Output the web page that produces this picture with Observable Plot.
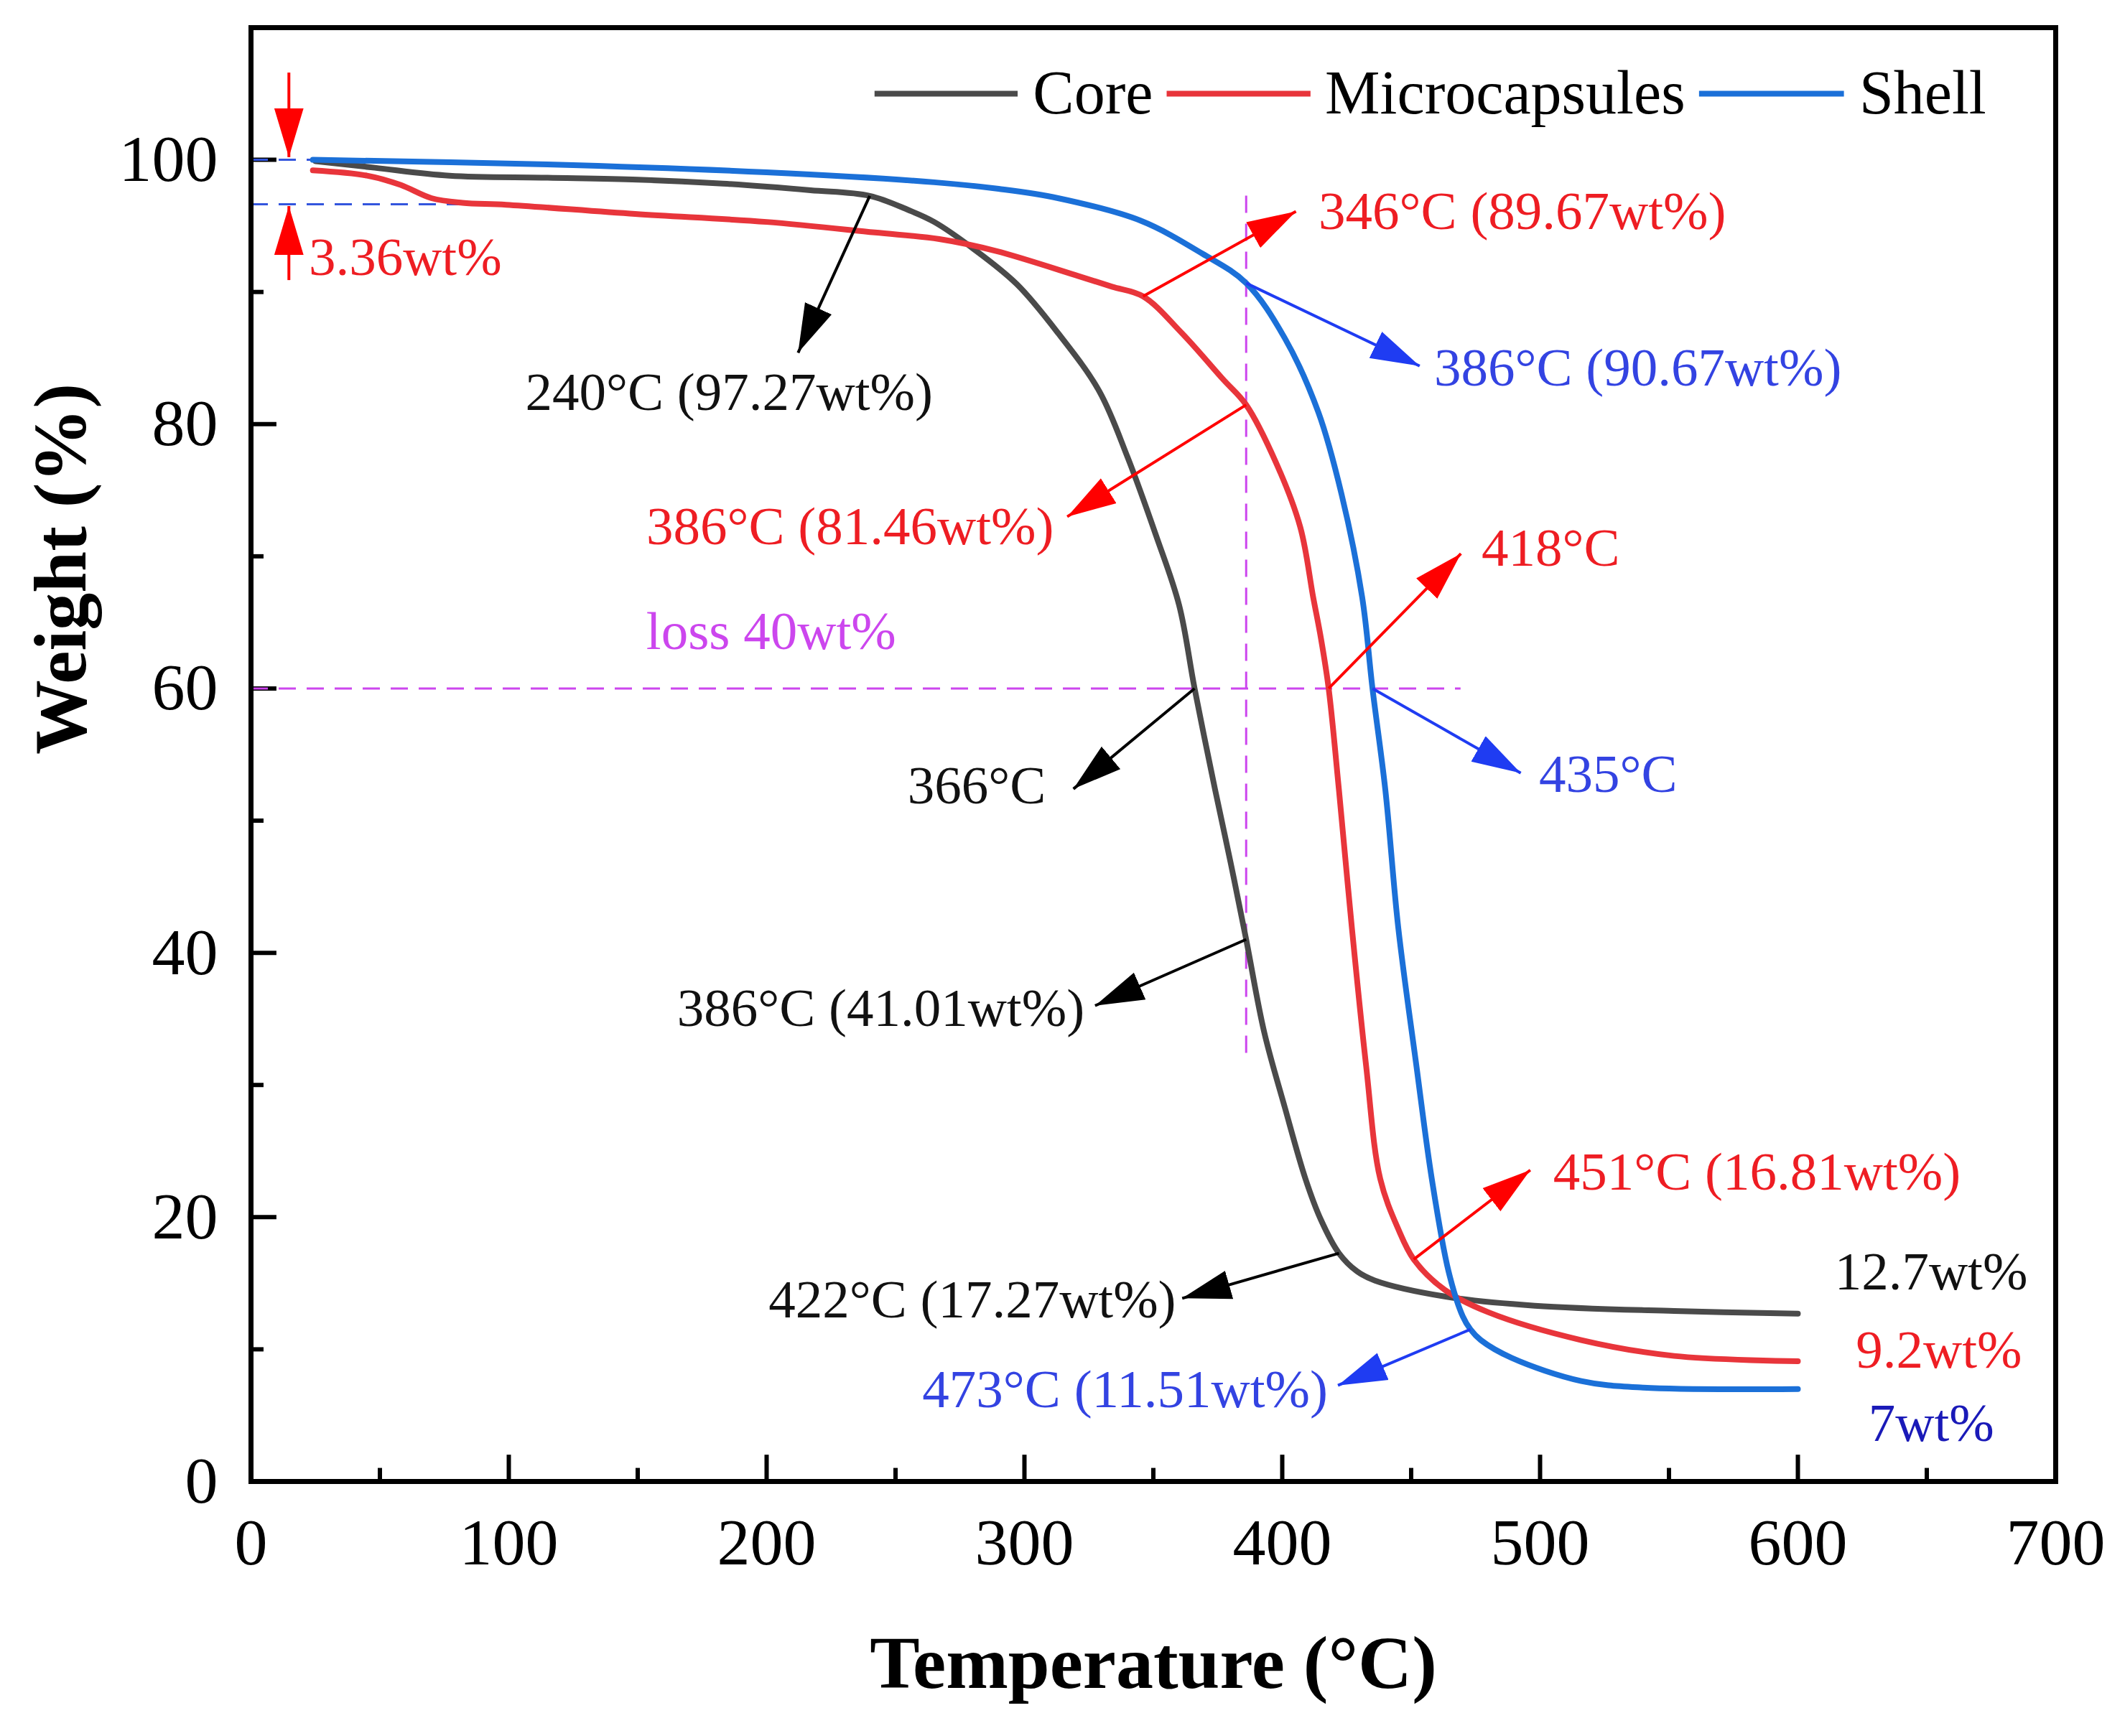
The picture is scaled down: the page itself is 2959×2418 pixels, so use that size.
<!DOCTYPE html>
<html>
<head>
<meta charset="utf-8">
<script src="https://cdn.jsdelivr.net/npm/d3@7"></script>
<script src="https://cdn.jsdelivr.net/npm/@observablehq/plot@0.6"></script>
<style>
  html, body { margin: 0; padding: 0; background: #fff; }
  #chart svg { display: block; }
</style>
</head>
<body>
<div id="chart"></div>
<script>
// ---------- data ----------
const seriesNames = ["Core", "Microcapsules", "Shell"];

const coreT = [25, 48, 77, 115, 150, 183, 217, 240, 255, 265, 280, 297, 313, 329, 340, 351, 360, 366, 374, 380, 386, 393, 401, 409, 415, 422, 429, 436, 463, 498, 552, 600];
const coreW = [99.9, 99.4, 98.8, 98.65, 98.5, 98.2, 97.7, 97.27, 96.2, 95.3, 93.3, 90.6, 86.9, 82.5, 77.5, 71.6, 66.3, 60.0, 52.3, 46.8, 41.01, 34.0, 28.3, 22.9, 19.8, 17.27, 15.9, 15.2, 14.0, 13.3, 12.9, 12.7];

const microT = [24, 45, 58, 70, 82, 99, 149, 200, 242, 267, 289, 321, 334, 346, 361, 377, 386, 398, 407, 412, 415, 418, 422, 427, 432.5, 438, 445, 451, 463, 480, 516, 552, 600];
const microW = [99.2, 98.8, 98.1, 97.1, 96.75, 96.6, 95.9, 95.3, 94.5, 94.0, 93.1, 91.2, 90.4, 89.67, 86.9, 83.4, 81.46, 76.9, 72.2, 66.9, 63.8, 60.0, 52.3, 41.9, 31.5, 22.9, 19.1, 16.81, 14.5, 12.8, 10.7, 9.5, 9.1];

const shellT = [24, 115, 200, 265, 290, 313, 345, 369, 386, 401, 414, 423, 431, 435, 440, 445, 452, 458, 464.5, 470, 473, 477, 489, 516, 540, 600];
const shellW = [100, 99.65, 99.05, 98.3, 97.8, 97.1, 95.4, 92.9, 90.67, 86.5, 80.9, 74.7, 66.9, 60.0, 52.3, 41.9, 31.5, 22.9, 15.9, 12.5, 11.51, 10.7, 9.35, 7.6, 7.1, 7.0];

// axis ticks
const xMajor = [0, 100, 200, 300, 400, 500, 600, 700];
const xMinor = [50, 150, 250, 350, 450, 550, 650];
const yMajor = [0, 20, 40, 60, 80, 100];
const yMinor = [10, 30, 50, 70, 90];

// annotations (temperature / weight values)
const annLabels = ["240°C (97.27wt%)", "346°C (89.67wt%)", "386°C (90.67wt%)", "386°C (81.46wt%)", "418°C", "366°C", "435°C", "386°C (41.01wt%)", "451°C (16.81wt%)", "422°C (17.27wt%)", "473°C (11.51wt%)"];
const annSeries = ["Core", "Microcapsules", "Shell", "Microcapsules", "Microcapsules", "Core", "Shell", "Core", "Microcapsules", "Core", "Shell"];
const annAnchor = ["start", "start", "start", "end", "start", "end", "start", "end", "start", "end", "end"];
const annTextT = [106.4, 414.1, 458.9, 311.4, 477.3, 308.3, 499.6, 323.3, 505.1, 358.8, 417.7];
const annTextW = [82.4, 96.05, 84.2, 72.2, 70.6, 52.6, 53.5, 35.75, 23.4, 13.7, 6.9];
const annFromT = [240, 346, 386, 386, 418, 366, 435, 386, 451, 422, 473];
const annFromW = [97.27, 89.67, 90.67, 81.46, 60, 60, 60, 41.01, 16.81, 17.27, 11.51];
const annToT = [212.2, 405.3, 453.3, 316.6, 469.3, 319, 492.5, 327.4, 496.2, 361.2, 421.6];
const annToW = [85.4, 96.1, 84.4, 73.0, 70.2, 52.4, 53.6, 36.0, 23.56, 13.86, 7.27];

// residue labels
const endLabels = ["12.7wt%", "9.2wt%", "7wt%"];
const endT = [689.1, 686.9, 676.1];
const endW = [15.84, 9.93, 4.35];

// initial loss (3.36 wt%) marker
const initLossLabel = "3.36wt%";
const initLevels = [100, 96.64];
const initLevelEnds = [24, 100];
const initArrowT = 14.7;
const initArrowsFrom = [106.6, 90.9];
const initArrowsTo = [100.2, 96.5];
const initLabelT = 22.4, initLabelW = 92.6;

// loss 40 wt% guides
const lossLabel = "loss 40wt%";
const lossLevel = 60, lossLevelEnd = 469.3;
const lossLabelT = 153.3, lossLabelW = 64.3;
const markT = 386, markTop = 97.5, markBottom = 32.4;

// legend layout (in data units)
const legendW = 105.0;
const legendLineFrom = [242, 355.3, 561.8];
const legendLineTo = [297.5, 411.1, 618];
const legendTextT = [303.3, 416.6, 623.8];

// ---------- styles ----------
const lineColor = {Core: "#4a4a4a", Microcapsules: "#e8353b", Shell: "#1b70d8"};
const textColor = {Core: "#111111", Microcapsules: "#ee1d23", Shell: "#3343e2"};
const arrowColor = {Core: "#000000", Microcapsules: "#ff0000", Shell: "#1f3cf2"};
const endColors = ["#111111", "#ee1d23", "#1a1ab8"];
const violet = "#cc46ee";
const dashBlue = "#3355dd";

// ---------- tables ----------
const curves = [];
[[coreT, coreW], [microT, microW], [shellT, shellW]].forEach(([T, W], k) => {
  T.forEach((t, i) => curves.push({series: seriesNames[k], t, w: W[i]}));
});
const ann = annLabels.map((label, i) => ({
  label, series: annSeries[i], anchor: annAnchor[i],
  tx: annTextT[i], ty: annTextW[i],
  x1: annFromT[i], y1: annFromW[i], x2: annToT[i], y2: annToW[i]
}));
const initArrows = initArrowsFrom.map((f, i) => ({x1: initArrowT, y1: f, x2: initArrowT, y2: initArrowsTo[i]}));
const ends = endLabels.map((label, i) => ({label, t: endT[i], w: endW[i], color: endColors[i]}));
const legend = seriesNames.map((name, i) => ({name, x1: legendLineFrom[i], x2: legendLineTo[i], tx: legendTextT[i]}));

const annFont = 75;

const chart = Plot.plot({
  width: 2959,
  height: 2418,
  marginLeft: 349,
  marginRight: 97,
  marginTop: 38,
  marginBottom: 355,
  x: {domain: [0, 700]},
  y: {domain: [0, 110]},
  color: {type: "identity"},
  style: {fontFamily: "'Liberation Serif', 'Times New Roman', serif", background: "#ffffff", color: "#000"},
  marks: [
    // axes (labels only; ticks drawn inward below)
    Plot.axisX(xMajor, {tickSize: 0, tickPadding: 50, fontSize: 92, label: null, tickFormat: d => String(d)}),
    Plot.axisY(yMajor, {tickSize: 0, tickPadding: 46, fontSize: 92, label: null, tickFormat: d => String(d)}),
    Plot.ruleX(xMajor, {x: d => d, y1: 0, y2: 2.0, stroke: "#000", strokeWidth: 6}),
    Plot.ruleX(xMinor, {x: d => d, y1: 0, y2: 1.0, stroke: "#000", strokeWidth: 6}),
    Plot.ruleY(yMajor, {y: d => d, x1: 0, x2: 10, stroke: "#000", strokeWidth: 6}),
    Plot.ruleY(yMinor, {y: d => d, x1: 0, x2: 5, stroke: "#000", strokeWidth: 6}),

    // guide lines
    Plot.ruleY(initLevels, {y: d => d, x1: 0, x2: (d, i) => initLevelEnds[i], stroke: dashBlue, strokeWidth: 3, strokeDasharray: "24,15"}),
    Plot.ruleY([lossLevel], {y: d => d, x1: 0, x2: lossLevelEnd, stroke: violet, strokeWidth: 3, strokeDasharray: "24,15"}),
    Plot.ruleX([markT], {x: d => d, y1: markBottom, y2: markTop, stroke: violet, strokeWidth: 3, strokeDasharray: "24,15"}),

    // curves
    Plot.line(curves, {x: "t", y: "w", z: "series", stroke: d => lineColor[d.series], strokeWidth: 8, curve: "catmull-rom", strokeLinejoin: "round", strokeLinecap: "round"}),

    // arrows
    Plot.link(ann, {x1: "x1", y1: "y1", x2: "x2", y2: "y2", stroke: d => arrowColor[d.series], strokeWidth: 4, markerEnd: "arrow"}),
    Plot.link(initArrows, {x1: "x1", y1: "y1", x2: "x2", y2: "y2", stroke: "#ff0000", strokeWidth: 4, markerEnd: "arrow"}),

    // annotation texts
    Plot.text(ann.filter(d => d.anchor === "start"), {x: "tx", y: "ty", text: "label", fill: d => textColor[d.series], fontSize: annFont, textAnchor: "start", lineAnchor: "middle"}),
    Plot.text(ann.filter(d => d.anchor === "end"), {x: "tx", y: "ty", text: "label", fill: d => textColor[d.series], fontSize: annFont, textAnchor: "end", lineAnchor: "middle"}),
    Plot.text(ends, {x: "t", y: "w", text: "label", fill: "color", fontSize: annFont, textAnchor: "end", lineAnchor: "middle"}),
    Plot.text([initLossLabel], {x: initLabelT, y: initLabelW, text: d => d, fill: "#ee1d23", fontSize: annFont, textAnchor: "start", lineAnchor: "middle"}),
    Plot.text([lossLabel], {x: lossLabelT, y: lossLabelW, text: d => d, fill: violet, fontSize: annFont, textAnchor: "start", lineAnchor: "middle"}),

    // legend
    Plot.ruleY(legend, {y: legendW, x1: "x1", x2: "x2", stroke: d => lineColor[d.name], strokeWidth: 8}),
    Plot.text(legend, {x: "tx", y: legendW, text: "name", fill: "#000", fontSize: 86, textAnchor: "start", lineAnchor: "middle"}),

    // axis titles
    Plot.text(["Temperature (°C)"], {frameAnchor: "bottom", dy: 254, text: d => d, fontSize: 104, fontWeight: "bold", fill: "#000", lineAnchor: "middle"}),
    Plot.text(["Weight (%)"], {frameAnchor: "left", dx: -264, rotate: -90, text: d => d, fontSize: 104, fontWeight: "bold", fill: "#000", lineAnchor: "middle"}),

    Plot.frame({stroke: "#000", strokeWidth: 7})
  ]
});

// filled triangular arrowheads (Origin style)
chart.querySelectorAll("marker").forEach(m => {
  const c = m.getAttribute("stroke") || "#000";
  m.setAttribute("viewBox", "-10 -5 10 10");
  m.setAttribute("markerWidth", "17");
  m.setAttribute("markerHeight", "17");
  m.setAttribute("refX", "0");
  m.setAttribute("refY", "0");
  m.setAttribute("fill", c);
  m.setAttribute("stroke", "none");
  m.removeAttribute("stroke-width");
  while (m.firstChild) m.removeChild(m.firstChild);
  const p = document.createElementNS("http://www.w3.org/2000/svg", "path");
  p.setAttribute("d", "M-10,-3L0,0L-10,3Z");
  p.setAttribute("fill", c);
  m.appendChild(p);
});

document.getElementById("chart").appendChild(chart);
</script>
</body>
</html>
